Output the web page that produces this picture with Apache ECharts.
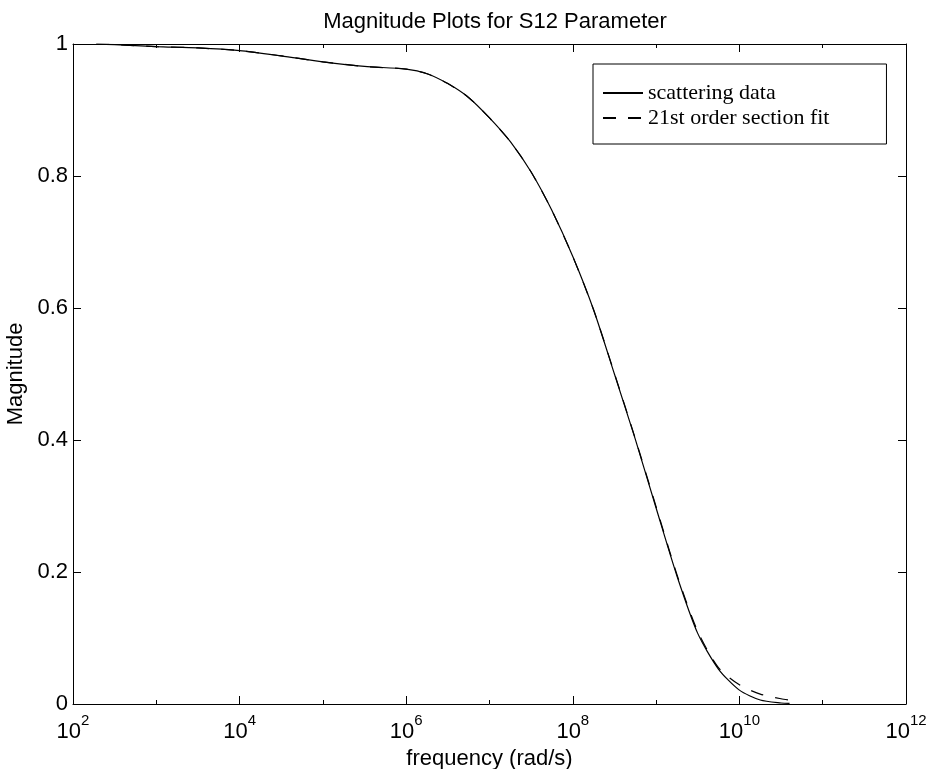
<!DOCTYPE html>
<html>
<head>
<meta charset="utf-8">
<script src="https://cdn.jsdelivr.net/npm/echarts@6/dist/echarts.min.js"></script>
<style>html,body{margin:0;padding:0;background:#fff;}#chart{width:932px;height:769px;}</style>
</head>
<body>
<div id="chart"></div>
<script>
// frequency (rad/s)
const freqData = [1.9e2, 3.16e2, 1e3, 3.16e3, 1e4, 3.16e4, 1e5, 3.16e5, 1e6, 1.78e6, 3.16e6, 5.6e6, 1e7, 1.78e7, 3.16e7, 5.6e7, 1e8, 1.78e8, 3.16e8, 5.6e8, 1e9, 1.78e9, 3.16e9, 5.6e9, 1e10, 1.78e10, 3.16e10, 4e10];
const scatteringMag = [1.000, 0.999, 0.996, 0.994, 0.990, 0.982, 0.973, 0.966, 0.962, 0.955, 0.940, 0.919, 0.888, 0.852, 0.806, 0.748, 0.678, 0.597, 0.500, 0.402, 0.297, 0.194, 0.107, 0.053, 0.021, 0.006, 0.0015, 0.001];
const fitMag = [1.000, 0.999, 0.996, 0.994, 0.990, 0.982, 0.973, 0.966, 0.962, 0.955, 0.940, 0.919, 0.888, 0.852, 0.806, 0.748, 0.678, 0.597, 0.501, 0.403, 0.299, 0.196, 0.110, 0.055, 0.029, 0.015, 0.008, 0.006];
const seriesNames = ['scattering data', '21st order section fit'];
const decadeMin = 2, decadeMax = 12; // tick labels 10^2 ... 10^12
const titleText = 'Magnitude Plots for S12 Parameter';
const xName = 'frequency (rad/s)';
const yName = 'Magnitude';

const chart = echarts.init(document.getElementById('chart'), null, {renderer: 'canvas'});
const sans = 'Liberation Sans, Arial, Helvetica, sans-serif';
const serif = 'Liberation Serif, Times New Roman, serif';

const pairs = (xs, ys) => xs.map((x, i) => [x, ys[i]]);

const decadeAxis = (pos, withLabels) => ({
  type: 'value', position: pos, min: decadeMin, max: decadeMax, interval: 2,
  axisLine: {show: true, onZero: false, lineStyle: {color: '#000', width: 1}},
  axisTick: {show: true, inside: true, length: 8, lineStyle: {color: '#000', width: 1}},
  minorTick: {show: true, splitNumber: 2, length: 4, lineStyle: {color: '#000', width: 1}},
  splitLine: {show: false}, minorSplitLine: {show: false},
  axisLabel: withLabels ? {
    show: true, margin: 9, formatter: v => '{b|10}{s|' + v + '}',
    rich: {
      b: {fontFamily: sans, fontSize: 22, color: '#000', verticalAlign: 'bottom', lineHeight: 30},
      s: {fontFamily: sans, fontSize: 15, color: '#000', verticalAlign: 'top', lineHeight: 30}
    }
  } : {show: false},
  name: withLabels ? xName : '', nameLocation: 'middle', nameGap: 40,
  nameTextStyle: {fontFamily: sans, fontSize: 22, color: '#000'}
});

const magAxis = (pos, withLabels) => ({
  type: 'value', position: pos, min: 0, max: 1, interval: 0.2,
  axisLine: {show: true, onZero: false, lineStyle: {color: '#000', width: 1}},
  axisTick: {show: true, inside: true, length: 8, lineStyle: {color: '#000', width: 1}},
  splitLine: {show: false},
  axisLabel: withLabels ? {show: true, margin: 5, color: '#000', fontFamily: sans, fontSize: 22} : {show: false},
  name: withLabels ? yName : '', nameLocation: 'middle', nameGap: 37,
  nameTextStyle: {fontFamily: sans, fontSize: 22, color: '#000'}
});

chart.setOption({
  animation: false,
  backgroundColor: '#fff',
  title: {
    text: titleText, left: 490, textAlign: 'center', top: 6,
    textStyle: {fontFamily: sans, fontSize: 22, fontWeight: 'normal', color: '#000'}
  },
  grid: {left: 73, right: 26, top: 44, bottom: 65, outerBoundsMode: 'none', containLabel: false},
  legend: {
    orient: 'vertical', left: 593, top: 64,
    data: seriesNames,
    itemWidth: 40, itemHeight: 14, itemGap: 3,
    padding: [18, 57, 15, 9],
    borderColor: '#000', borderWidth: 1, backgroundColor: '#fff',
    itemStyle: {opacity: 0, borderWidth: 0},
    textStyle: {fontFamily: serif, fontSize: 22, color: '#000', lineHeight: 22}
  },
  xAxis: [
    {type: 'log', logBase: 10, min: 1e2, max: 1e12, show: false, position: 'bottom'},
    decadeAxis('bottom', true),
    decadeAxis('top', false)
  ],
  yAxis: [
    magAxis('left', true),
    magAxis('right', false)
  ],
  series: [
    {
      name: seriesNames[0], type: 'line', xAxisIndex: 0, yAxisIndex: 0,
      data: pairs(freqData, scatteringMag), showSymbol: false, symbol: 'none', smooth: 0.25,
      lineStyle: {color: '#000', width: 1.2, type: 'solid'}, itemStyle: {color: '#000'}, z: 3
    },
    {
      name: seriesNames[1], type: 'line', xAxisIndex: 0, yAxisIndex: 0,
      data: pairs(freqData, fitMag), showSymbol: false, symbol: 'none', smooth: 0.25,
      lineStyle: {color: '#000', width: 1.2, type: [13, 12]}, itemStyle: {color: '#000'}, z: 2
    }
  ]
});
</script>
</body>
</html>
